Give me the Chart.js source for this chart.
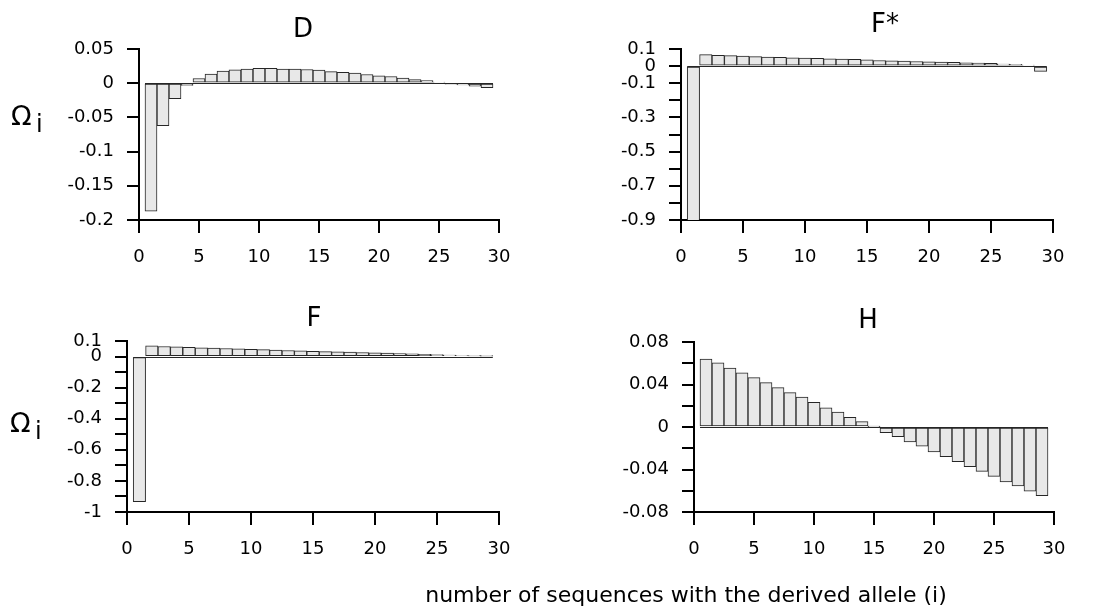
<!DOCTYPE html>
<html>
<head>
<meta charset="utf-8">
<script src="https://cdn.jsdelivr.net/npm/chart.js@4/dist/chart.umd.min.js"></script>
<style>
html,body{margin:0;padding:0;background:#fff;}
#wrap{position:relative;width:1096px;height:609px;overflow:hidden;background:#fff;}
#wrap canvas{position:absolute;left:0;top:0;}
</style>
</head>
<body>
<div id="wrap">
<canvas id="cD" width="1096" height="609"></canvas>
<canvas id="cFs" width="1096" height="609"></canvas>
<canvas id="cF" width="1096" height="609"></canvas>
<canvas id="cH" width="1096" height="609"></canvas>
</div>
<script>
// ---------------- data ----------------
const iValues = [1,2,3,4,5,6,7,8,9,10,11,12,13,14,15,16,17,18,19,20,21,22,23,24,25,26,27,28,29];

const omegaD = [-0.187,-0.062,-0.0226,-0.0034,0.0069,0.0132,0.0176,0.0196,0.0206,0.0216,
                0.0216,0.0206,0.0206,0.0200,0.0190,0.0170,0.0160,0.0147,0.0127,0.0108,
                0.0098,0.0074,0.0054,0.0040,0.0015,-0.0010,-0.0025,-0.0044,-0.0064];
const omegaFstar = [-0.93,0.0667,0.063,0.061,0.059,0.055,0.053,0.051,0.049,0.047,
                    0.045,0.043,0.041,0.039,0.037,0.033,0.031,0.029,0.027,0.025,
                    0.0235,0.0216,0.0196,0.0176,0.0157,0.012,0.010,0.006,-0.031];
const omegaF = [-0.933,0.069,0.0645,0.062,0.060,0.056,0.054,0.052,0.049,0.047,
                0.045,0.041,0.039,0.037,0.034,0.032,0.030,0.028,0.026,0.024,
                0.022,0.019,0.017,0.014,0.012,0.009,0.007,0.004,0.002];
const omegaH = [0.064,0.0605,0.0555,0.051,0.0464,0.0417,0.037,0.0323,0.0282,0.0232,
                0.018,0.014,0.009,0.005,0.0003,-0.0053,-0.009,-0.014,-0.018,-0.0235,
                -0.028,-0.0326,-0.0373,-0.0417,-0.0464,-0.0517,-0.0555,-0.0605,-0.0646];

const panelTitles = ['D', 'F*', 'F', 'H'];

const xTickValues = [0,5,10,15,20,25,30];
const xTickLabels = ['0','5','10','15','20','25','30'];

const yTickValuesD = [0.05,0,-0.05,-0.1,-0.15,-0.2];
const yTickLabelsD = ['0.05','0','-0.05','-0.1','-0.15','-0.2'];
const yTickValuesFstar = [0.1,0,-0.1,-0.3,-0.5,-0.7,-0.9];
const yTickLabelsFstar = ['0.1','0','-0.1','-0.3','-0.5','-0.7','-0.9'];
const yTickValuesF = [0.1,0,-0.2,-0.4,-0.6,-0.8,-1];
const yTickLabelsF = ['0.1','0','-0.2','-0.4','-0.6','-0.8','-1'];
const yTickValuesH = [0.08,0.04,0,-0.04,-0.08];
const yTickLabelsH = ['0.08','0.04','0','-0.04','-0.08'];

const yAxisTitle = 'Ω';
const yAxisSub = 'i';
const xAxisTitle = 'number of sequences with the derived allele (i)';

// ---------------- styling / layout ----------------
const FONT = "'DejaVu Sans', 'Liberation Sans', sans-serif";
Chart.defaults.font.family = FONT;
Chart.defaults.color = '#000';

const W = 1096, H = 609, Y_W = 110, X_H = 50;
const BAR_FILL = '#e8e8e8', BAR_EDGE = '#262626';

// text (titles, axis titles) drawn on the canvas
const textPlugin = {
  id: 'panelText',
  afterDraw(chart, args, opts) {
    const ctx = chart.ctx;
    ctx.save();
    ctx.fillStyle = '#000';
    ctx.textBaseline = 'alphabetic';
    (opts.items || []).forEach(it => {
      ctx.font = it.font;
      ctx.textAlign = it.align || 'center';
      ctx.fillText(it.text, it.x, it.y);
    });
    ctx.restore();
  }
};

// bottom edge of the bars (value 0), from the first bar's left edge to the last bar's right edge
const baselinePlugin = {
  id: 'barBase',
  afterDatasetsDraw(chart) {
    const xs = chart.scales.x, ys = chart.scales.y;
    const x0 = xs.getPixelForValue(iValues[0] - 0.5);
    const x1 = xs.getPixelForValue(iValues[iValues.length - 1] + 0.5);
    const y = Math.round(ys.getPixelForValue(0)) + 0.5;
    const ctx = chart.ctx;
    ctx.save();
    ctx.strokeStyle = BAR_EDGE;
    ctx.lineWidth = 1;
    ctx.beginPath();
    ctx.moveTo(x0, y);
    ctx.lineTo(x1, y);
    ctx.stroke();
    ctx.restore();
  }
};

function labelFor(values, labels) {
  return function(v) {
    for (let k = 0; k < values.length; k++) {
      if (Math.abs(values[k] - v) < 1e-9) return labels[k];
    }
    return '';
  };
}

function makePanel(id, values, yMin, yMax, yStep, tVals, tLabels, box, items) {
  new Chart(document.getElementById(id), {
    type: 'bar',
    data: {
      datasets: [{
        data: iValues.map((x, k) => ({x: x, y: values[k]})),
        backgroundColor: BAR_FILL,
        borderColor: BAR_EDGE,
        borderWidth: 1,
        borderSkipped: false,
        barPercentage: 1,
        categoryPercentage: 1
      }]
    },
    options: {
      responsive: false,
      animation: false,
      events: [],
      devicePixelRatio: 1,
      layout: {
        padding: {
          left: box.left - Y_W,
          right: W - box.right,
          top: box.top,
          bottom: H - box.bottom - X_H
        }
      },
      plugins: {
        legend: {display: false},
        tooltip: {enabled: false},
        title: {display: false},
        panelText: {items: items}
      },
      scales: {
        x: {
          type: 'linear',
          min: 0, max: 30,
          offset: false,
          z: 1,
          afterFit: s => { s.height = X_H; },
          border: {display: true, color: '#000', width: 2},
          grid: {display: true, drawOnChartArea: false, drawTicks: true, tickLength: 13, color: '#000', lineWidth: 2, offset: false},
          ticks: {stepSize: 5, autoSkip: false, maxRotation: 0, padding: 14, color: '#000', font: {size: 18},
                  callback: labelFor(xTickValues, xTickLabels)}
        },
        y: {
          type: 'linear',
          min: yMin, max: yMax,
          z: 1,
          afterFit: s => { s.width = Y_W; },
          border: {display: true, color: '#000', width: 2},
          grid: {display: true, drawOnChartArea: false, drawTicks: true, tickLength: 12, color: '#000', lineWidth: 2},
          ticks: {stepSize: yStep, autoSkip: false, padding: 13, color: '#000', font: {size: 18},
                  callback: labelFor(tVals, tLabels)}
        }
      }
    },
    plugins: [baselinePlugin, textPlugin]
  });
}

const titleFont = '26px ' + FONT;
const omegaFont = '27px ' + FONT;
const subFont = '24px ' + FONT;

makePanel('cD', omegaD, -0.2, 0.05, 0.05, yTickValuesD, yTickLabelsD,
  {left: 139, right: 499, top: 49, bottom: 220},
  [{text: panelTitles[0], x: 303, y: 37, font: titleFont},
   {text: yAxisTitle, x: 11, y: 125, font: omegaFont, align: 'left'},
   {text: yAxisSub, x: 36, y: 132, font: subFont, align: 'left'}]);

makePanel('cFs', omegaFstar, -0.9, 0.1, 0.1, yTickValuesFstar, yTickLabelsFstar,
  {left: 681, right: 1053, top: 49, bottom: 220},
  [{text: panelTitles[1], x: 885, y: 32, font: titleFont}]);

makePanel('cF', omegaF, -1, 0.1, 0.1, yTickValuesF, yTickLabelsF,
  {left: 127, right: 499, top: 341, bottom: 512},
  [{text: panelTitles[2], x: 314, y: 326, font: titleFont},
   {text: yAxisTitle, x: 10, y: 432, font: omegaFont, align: 'left'},
   {text: yAxisSub, x: 35, y: 439, font: subFont, align: 'left'}]);

makePanel('cH', omegaH, -0.08, 0.08, 0.02, yTickValuesH, yTickLabelsH,
  {left: 694, right: 1054, top: 342, bottom: 512},
  [{text: panelTitles[3], x: 868, y: 328, font: titleFont},
   {text: xAxisTitle, x: 686, y: 602, font: '22px ' + FONT}]);
</script>
</body>
</html>
